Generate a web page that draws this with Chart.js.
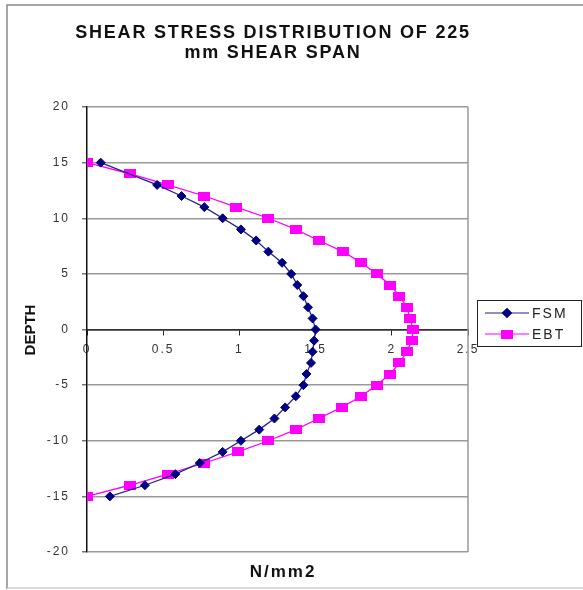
<!DOCTYPE html>
<html>
<head>
<meta charset="utf-8">
<script src="https://cdn.jsdelivr.net/npm/chart.js@4.4.1/dist/chart.umd.min.js"></script>
<style>
  html, body { margin: 0; padding: 0; background: #fff; }
  #wrap { width: 583px; height: 590px; position: relative; }
</style>
</head>
<body>
<div id="wrap"><canvas id="chart"></canvas></div>
<script>
let titleLines = ["SHEAR STRESS DISTRIBUTION OF 225", "mm SHEAR SPAN"];
let xTitle = "N/mm2";
let yTitle = "DEPTH";

let fsmDepth = [15, 13, 12, 11, 10, 9, 8, 7, 6, 5, 4, 3, 2, 1, 0, -1, -2, -3, -4, -5, -6, -7, -8, -9, -10, -11, -12, -13, -14, -15];
let fsmStress = [0.09, 0.46, 0.62, 0.77, 0.89, 1.01, 1.11, 1.19, 1.28, 1.34, 1.38, 1.42, 1.45, 1.48, 1.50, 1.49, 1.48, 1.47, 1.44, 1.42, 1.37, 1.30, 1.23, 1.13, 1.01, 0.89, 0.74, 0.58, 0.38, 0.15];

let ebtDepth = [15, 14, 13, 12, 11, 10, 9, 8, 7, 6, 5, 4, 3, 2, 1, 0, -1, -2, -3, -4, -5, -6, -7, -8, -9, -10, -11, -12, -13, -14, -15];
let ebtStress = [0, 0.28, 0.53, 0.77, 0.98, 1.19, 1.37, 1.52, 1.68, 1.80, 1.90, 1.99, 2.05, 2.10, 2.12, 2.14, 2.13, 2.10, 2.05, 1.99, 1.90, 1.80, 1.67, 1.52, 1.37, 1.19, 0.99, 0.77, 0.53, 0.28, 0];

const FONT = "'Liberation Sans', Arial, sans-serif";

// wide magenta square marker, as in the original
const ebtMarker = document.createElement("canvas");
ebtMarker.width = 12;
ebtMarker.height = 9;
const mctx = ebtMarker.getContext("2d");
mctx.fillStyle = "#ff00ff";
mctx.fillRect(0, 0, 12, 9);

// title, axis titles, legend box and outer frame
const decorations = {
  id: "decorations",
  beforeDraw(chart) {
    const ctx = chart.ctx;
    ctx.save();
    ctx.strokeStyle = "#888";
    ctx.lineWidth = 1.5;
    ctx.beginPath();
    ctx.moveTo(7, 589);
    ctx.lineTo(7, 5);
    ctx.lineTo(583, 5);
    ctx.stroke();
    ctx.strokeStyle = "#ccc";
    ctx.beginPath();
    ctx.moveTo(7, 588);
    ctx.lineTo(583, 588);
    ctx.stroke();
    ctx.restore();
    // tick labels are drawn stretched in the original
    ctx.letterSpacing = "2px";
  },
  afterDraw(chart) {
    const ctx = chart.ctx;
    const area = chart.chartArea;
    ctx.save();
    // right border of plot area
    ctx.strokeStyle = "#999";
    ctx.lineWidth = 1.5;
    ctx.beginPath();
    ctx.moveTo(area.right, area.top);
    ctx.lineTo(area.right, area.bottom);
    ctx.stroke();

    ctx.fillStyle = "#111";
    ctx.textAlign = "center";
    ctx.textBaseline = "middle";
    ctx.letterSpacing = "1.8px";
    ctx.font = "bold 18px " + FONT;
    ctx.fillText(titleLines[0], 273, 33);
    ctx.fillText(titleLines[1], 273, 53);

    ctx.letterSpacing = "2px";
    ctx.font = "bold 17px " + FONT;
    ctx.fillText(xTitle, 283, 572);

    ctx.save();
    ctx.translate(31, 330);
    ctx.rotate(-Math.PI / 2);
    ctx.letterSpacing = "0px";
    ctx.font = "bold 15px " + FONT;
    ctx.fillText(yTitle, 0, 0);
    ctx.restore();

    // legend
    ctx.fillStyle = "#fff";
    ctx.fillRect(477, 300, 105, 47);
    ctx.strokeStyle = "#222";
    ctx.lineWidth = 1;
    ctx.strokeRect(477.5, 300.5, 104, 46);
    chart.data.datasets.forEach((ds, i) => {
      const y = 313 + i * 21;
      ctx.strokeStyle = ds.borderColor;
      ctx.lineWidth = 1.2;
      ctx.beginPath();
      ctx.moveTo(485, y);
      ctx.lineTo(529, y);
      ctx.stroke();
      ctx.fillStyle = ds.pointBackgroundColor;
      ctx.strokeStyle = ds.pointBorderColor;
      Chart.helpers.drawPoint(ctx, {
        pointStyle: ds.pointStyle,
        radius: ds.pointRadius,
        borderWidth: 1
      }, 507, y);
      ctx.fillStyle = "#222";
      ctx.textAlign = "left";
      ctx.letterSpacing = "2px";
      ctx.font = "14px " + FONT;
      ctx.fillText(ds.label, 532, y + 1);
    });
    ctx.restore();
    ctx.letterSpacing = "0px";
  }
};

new Chart(document.getElementById("chart"), {
  type: "scatter",
  plugins: [decorations],
  data: {
    datasets: [
      {
        label: "FSM",
        data: fsmStress.map((v, i) => ({ x: v, y: fsmDepth[i] })),
        showLine: true,
        borderColor: "#23238a",
        borderWidth: 1.3,
        pointStyle: "rectRot",
        pointRadius: 4.5,
        pointBackgroundColor: "#000080",
        pointBorderColor: "#000080",
        pointBorderWidth: 1
      },
      {
        label: "EBT",
        data: ebtStress.map((v, i) => ({ x: v, y: ebtDepth[i] })),
        showLine: true,
        borderColor: "#ff00ff",
        borderWidth: 1.3,
        pointStyle: ebtMarker,
        pointRadius: 6,
        pointBackgroundColor: "#ff00ff",
        pointBorderColor: "#ff00ff",
        pointBorderWidth: 1
      }
    ]
  },
  options: {
    responsive: true,
    maintainAspectRatio: false,
    animation: false,
    layout: { padding: { left: 0, top: 107, right: 115, bottom: 38 } },
    plugins: {
      legend: { display: false },
      title: { display: false },
      tooltip: { enabled: false }
    },
    scales: {
      x: {
        type: "linear",
        position: { y: 0 },
        min: 0,
        max: 2.5,
        ticks: {
          stepSize: 0.5,
          padding: 8,
          color: "#333",
          font: { family: FONT, size: 12 },
          callback: (v) => String(v)
        },
        grid: { drawOnChartArea: false, tickLength: 5, tickColor: "#222" },
        border: { color: "#333", width: 1.5 }
      },
      y: {
        type: "linear",
        min: -20,
        max: 20,
        afterFit: (scale) => { scale.width = 87; },
        ticks: {
          stepSize: 5,
          padding: 12,
          color: "#333",
          font: { family: FONT, size: 12 }
        },
        grid: {
          color: (c) => (c.tick && c.tick.value === 0 ? "#333" : "#999"),
          lineWidth: 1.5,
          tickLength: 5,
          tickColor: "#777"
        },
        border: { color: "#111", width: 1.5 }
      }
    }
  }
});
</script>
</body>
</html>
